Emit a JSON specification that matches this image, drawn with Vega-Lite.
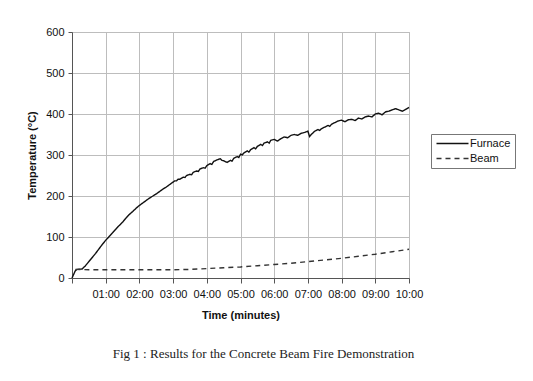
{
  "$schema": "https://vega.github.io/schema/vega-lite/v6.json",
  "width": 337,
  "height": 246,
  "autosize": "none",
  "padding": {"left": 72, "top": 32, "right": 124, "bottom": 103},
  "background": "white",
  "title": {
    "text": "Fig 1 : Results for the Concrete Beam Fire Demonstration",
    "orient": "bottom",
    "anchor": "middle",
    "dx": 23,
    "offset": 28,
    "font": "Liberation Serif",
    "fontSize": 13,
    "fontWeight": "normal",
    "color": "#222"
  },
  "config": {
    "view": {"stroke": "#b8b8b8"},
    "font": "Liberation Sans",
    "axis": {
      "labelFont": "Liberation Sans",
      "titleFont": "Liberation Sans",
      "labelFontSize": 11,
      "titleFontSize": 11,
      "labelColor": "#111",
      "titleColor": "#111",
      "domainColor": "#555",
      "tickColor": "#555",
      "gridColor": "#bdbdbd",
      "gridWidth": 1
    }
  },
  "data": {
    "values": [
      {"t": 0, "v": 0, "s": "Furnace"},
      {"t": 0.1, "v": 18, "s": "Furnace"},
      {"t": 0.15, "v": 21, "s": "Furnace"},
      {"t": 0.3, "v": 22, "s": "Furnace"},
      {"t": 0.4, "v": 30, "s": "Furnace"},
      {"t": 0.5, "v": 40, "s": "Furnace"},
      {"t": 0.6, "v": 50, "s": "Furnace"},
      {"t": 0.7, "v": 60, "s": "Furnace"},
      {"t": 0.8, "v": 71, "s": "Furnace"},
      {"t": 0.9, "v": 82, "s": "Furnace"},
      {"t": 1.0, "v": 92, "s": "Furnace"},
      {"t": 1.1, "v": 101, "s": "Furnace"},
      {"t": 1.2, "v": 110, "s": "Furnace"},
      {"t": 1.3, "v": 119, "s": "Furnace"},
      {"t": 1.4, "v": 128, "s": "Furnace"},
      {"t": 1.5, "v": 136, "s": "Furnace"},
      {"t": 1.6, "v": 146, "s": "Furnace"},
      {"t": 1.7, "v": 155, "s": "Furnace"},
      {"t": 1.8, "v": 162, "s": "Furnace"},
      {"t": 1.9, "v": 170, "s": "Furnace"},
      {"t": 2.0, "v": 177, "s": "Furnace"},
      {"t": 2.1, "v": 183, "s": "Furnace"},
      {"t": 2.2, "v": 189, "s": "Furnace"},
      {"t": 2.3, "v": 195, "s": "Furnace"},
      {"t": 2.4, "v": 200, "s": "Furnace"},
      {"t": 2.5, "v": 205, "s": "Furnace"},
      {"t": 2.6, "v": 211, "s": "Furnace"},
      {"t": 2.7, "v": 217, "s": "Furnace"},
      {"t": 2.8, "v": 222, "s": "Furnace"},
      {"t": 2.9, "v": 228, "s": "Furnace"},
      {"t": 3.0, "v": 234, "s": "Furnace"},
      {"t": 3.05, "v": 237, "s": "Furnace"},
      {"t": 3.1, "v": 237, "s": "Furnace"},
      {"t": 3.15, "v": 241, "s": "Furnace"},
      {"t": 3.2, "v": 241, "s": "Furnace"},
      {"t": 3.3, "v": 246, "s": "Furnace"},
      {"t": 3.35, "v": 245, "s": "Furnace"},
      {"t": 3.4, "v": 250, "s": "Furnace"},
      {"t": 3.5, "v": 253, "s": "Furnace"},
      {"t": 3.55, "v": 252, "s": "Furnace"},
      {"t": 3.6, "v": 258, "s": "Furnace"},
      {"t": 3.7, "v": 261, "s": "Furnace"},
      {"t": 3.75, "v": 260, "s": "Furnace"},
      {"t": 3.8, "v": 266, "s": "Furnace"},
      {"t": 3.9, "v": 269, "s": "Furnace"},
      {"t": 3.95, "v": 268, "s": "Furnace"},
      {"t": 4.0, "v": 274, "s": "Furnace"},
      {"t": 4.1, "v": 279, "s": "Furnace"},
      {"t": 4.15, "v": 277, "s": "Furnace"},
      {"t": 4.2, "v": 284, "s": "Furnace"},
      {"t": 4.3, "v": 288, "s": "Furnace"},
      {"t": 4.4, "v": 291, "s": "Furnace"},
      {"t": 4.45, "v": 287, "s": "Furnace"},
      {"t": 4.5, "v": 286, "s": "Furnace"},
      {"t": 4.6, "v": 282, "s": "Furnace"},
      {"t": 4.7, "v": 287, "s": "Furnace"},
      {"t": 4.75, "v": 285, "s": "Furnace"},
      {"t": 4.8, "v": 292, "s": "Furnace"},
      {"t": 4.9, "v": 296, "s": "Furnace"},
      {"t": 4.95, "v": 294, "s": "Furnace"},
      {"t": 5.0, "v": 302, "s": "Furnace"},
      {"t": 5.05, "v": 300, "s": "Furnace"},
      {"t": 5.1, "v": 305, "s": "Furnace"},
      {"t": 5.2, "v": 310, "s": "Furnace"},
      {"t": 5.25, "v": 307, "s": "Furnace"},
      {"t": 5.3, "v": 313, "s": "Furnace"},
      {"t": 5.4, "v": 318, "s": "Furnace"},
      {"t": 5.45, "v": 315, "s": "Furnace"},
      {"t": 5.5, "v": 321, "s": "Furnace"},
      {"t": 5.6, "v": 326, "s": "Furnace"},
      {"t": 5.65, "v": 323, "s": "Furnace"},
      {"t": 5.7, "v": 329, "s": "Furnace"},
      {"t": 5.8, "v": 332, "s": "Furnace"},
      {"t": 5.85, "v": 329, "s": "Furnace"},
      {"t": 5.9, "v": 336, "s": "Furnace"},
      {"t": 6.0, "v": 338, "s": "Furnace"},
      {"t": 6.1, "v": 334, "s": "Furnace"},
      {"t": 6.2, "v": 340, "s": "Furnace"},
      {"t": 6.3, "v": 344, "s": "Furnace"},
      {"t": 6.4, "v": 342, "s": "Furnace"},
      {"t": 6.5, "v": 348, "s": "Furnace"},
      {"t": 6.6, "v": 350, "s": "Furnace"},
      {"t": 6.7, "v": 348, "s": "Furnace"},
      {"t": 6.8, "v": 353, "s": "Furnace"},
      {"t": 6.9, "v": 355, "s": "Furnace"},
      {"t": 7.0, "v": 358, "s": "Furnace"},
      {"t": 7.05, "v": 345, "s": "Furnace"},
      {"t": 7.1, "v": 350, "s": "Furnace"},
      {"t": 7.2, "v": 358, "s": "Furnace"},
      {"t": 7.3, "v": 362, "s": "Furnace"},
      {"t": 7.35, "v": 360, "s": "Furnace"},
      {"t": 7.4, "v": 364, "s": "Furnace"},
      {"t": 7.5, "v": 368, "s": "Furnace"},
      {"t": 7.6, "v": 372, "s": "Furnace"},
      {"t": 7.65, "v": 370, "s": "Furnace"},
      {"t": 7.7, "v": 375, "s": "Furnace"},
      {"t": 7.8, "v": 379, "s": "Furnace"},
      {"t": 7.9, "v": 383, "s": "Furnace"},
      {"t": 8.0, "v": 385, "s": "Furnace"},
      {"t": 8.1, "v": 381, "s": "Furnace"},
      {"t": 8.2, "v": 386, "s": "Furnace"},
      {"t": 8.3, "v": 387, "s": "Furnace"},
      {"t": 8.4, "v": 384, "s": "Furnace"},
      {"t": 8.5, "v": 390, "s": "Furnace"},
      {"t": 8.6, "v": 388, "s": "Furnace"},
      {"t": 8.7, "v": 393, "s": "Furnace"},
      {"t": 8.8, "v": 395, "s": "Furnace"},
      {"t": 8.9, "v": 393, "s": "Furnace"},
      {"t": 9.0, "v": 400, "s": "Furnace"},
      {"t": 9.1, "v": 402, "s": "Furnace"},
      {"t": 9.2, "v": 398, "s": "Furnace"},
      {"t": 9.3, "v": 405, "s": "Furnace"},
      {"t": 9.4, "v": 407, "s": "Furnace"},
      {"t": 9.5, "v": 410, "s": "Furnace"},
      {"t": 9.6, "v": 413, "s": "Furnace"},
      {"t": 9.7, "v": 410, "s": "Furnace"},
      {"t": 9.8, "v": 407, "s": "Furnace"},
      {"t": 9.9, "v": 411, "s": "Furnace"},
      {"t": 10.0, "v": 416, "s": "Furnace"},
      {"t": 0.1, "v": 21, "s": "Beam"},
      {"t": 0.5, "v": 20, "s": "Beam"},
      {"t": 1.0, "v": 20, "s": "Beam"},
      {"t": 1.5, "v": 20, "s": "Beam"},
      {"t": 2.0, "v": 20, "s": "Beam"},
      {"t": 2.5, "v": 20, "s": "Beam"},
      {"t": 3.0, "v": 20, "s": "Beam"},
      {"t": 3.5, "v": 21, "s": "Beam"},
      {"t": 4.0, "v": 23, "s": "Beam"},
      {"t": 4.5, "v": 25, "s": "Beam"},
      {"t": 5.0, "v": 27, "s": "Beam"},
      {"t": 5.5, "v": 30, "s": "Beam"},
      {"t": 6.0, "v": 33, "s": "Beam"},
      {"t": 6.5, "v": 36, "s": "Beam"},
      {"t": 7.0, "v": 40, "s": "Beam"},
      {"t": 7.5, "v": 44, "s": "Beam"},
      {"t": 8.0, "v": 48, "s": "Beam"},
      {"t": 8.5, "v": 53, "s": "Beam"},
      {"t": 9.0, "v": 58, "s": "Beam"},
      {"t": 9.5, "v": 64, "s": "Beam"},
      {"t": 10.0, "v": 70, "s": "Beam"}
    ]
  },
  "mark": {"type": "line", "strokeWidth": 1.4},
  "encoding": {
    "x": {
      "field": "t",
      "type": "quantitative",
      "scale": {"domain": [0, 10], "nice": false},
      "axis": {
        "title": "Time (minutes)",
        "titleFontWeight": "bold",
        "titlePadding": 10,
        "values": [0, 1, 2, 3, 4, 5, 6, 7, 8, 9, 10],
        "labelExpr": "datum.value == 0 ? '' : (datum.value < 10 ? '0' + datum.value + ':00' : datum.value + ':00')",
        "labelOverlap": false,
        "labelBound": false,
        "labelFlush": false,
        "tickSize": 5,
        "labelPadding": 5
      }
    },
    "y": {
      "field": "v",
      "type": "quantitative",
      "scale": {"domain": [0, 600], "nice": false},
      "axis": {
        "title": "Temperature (°C)",
        "titleFontWeight": "bold",
        "titlePadding": 8,
        "values": [0, 100, 200, 300, 400, 500, 600],
        "tickSize": 4,
        "labelPadding": 4
      }
    },
    "color": {
      "field": "s",
      "type": "nominal",
      "scale": {"domain": ["Furnace", "Beam"], "range": ["#111111", "#333333"]},
      "legend": {
        "title": null,
        "orient": "none",
        "legendX": 359,
        "legendY": 102,
        "strokeColor": "#777",
        "padding": 4,
        "symbolType": "M-1,0H7",
        "symbolSize": 64,
        "symbolStrokeWidth": 1.3,
        "labelFontSize": 11,
        "labelFont": "Liberation Sans",
        "labelColor": "#111",
        "rowPadding": 3,
        "labelOffset": 24
      }
    },
    "strokeDash": {
      "field": "s",
      "type": "nominal",
      "scale": {"domain": ["Furnace", "Beam"], "range": [[1, 0], [5, 4]]},
      "legend": {
        "title": null,
        "orient": "none",
        "legendX": 359,
        "legendY": 102
      }
    }
  }
}
